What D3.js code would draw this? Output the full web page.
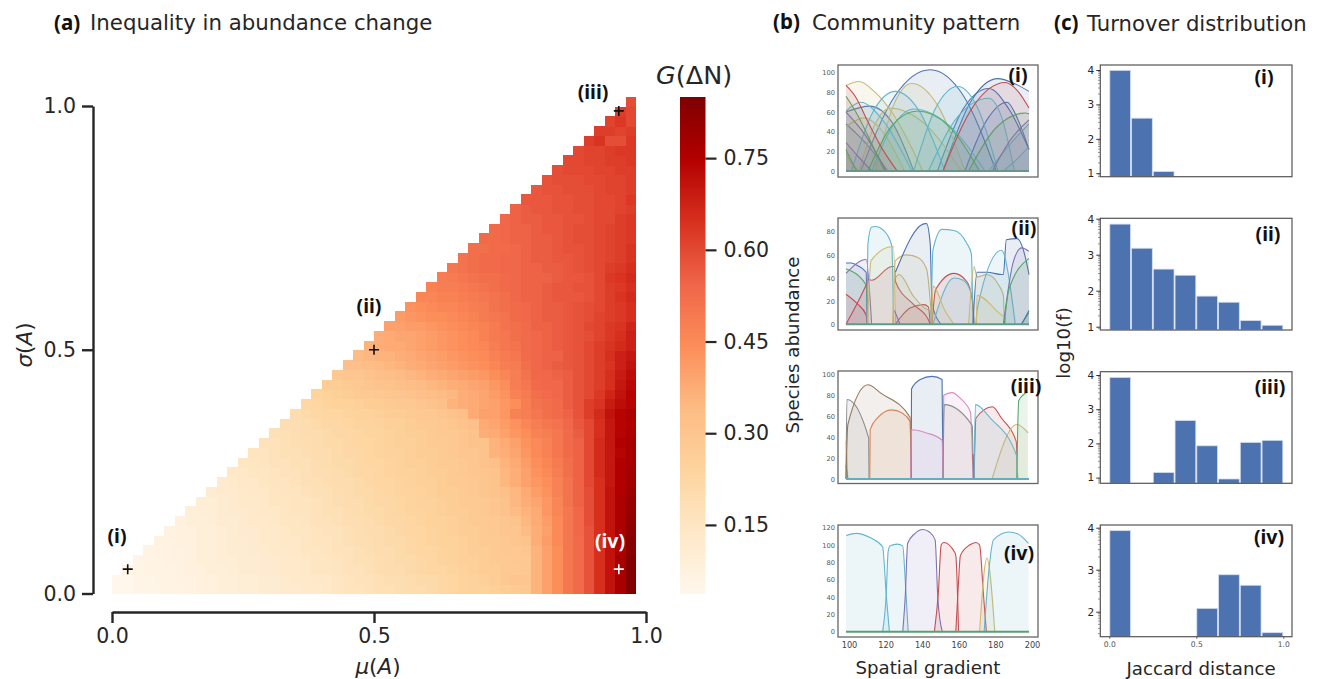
<!DOCTYPE html>
<html>
<head>
<meta charset="utf-8">
<script src="https://cdn.jsdelivr.net/npm/d3@7"></script>
<style>
  html, body { margin: 0; background: #fff; }
  svg { display: block; }
  text { font-family: "DejaVu Sans", sans-serif; fill: #262626; }
  text.tag { font-family: "Noto Sans", sans-serif; font-weight: bold; }
</style>
</head>
<body>
<div id="chart"></div>
<script>
// G(dN) x 100, one list per sigma row (bottom row first). each row ends at mu column 49
const giniRows = [
  [4,4,5,5,5,6,6,7,8,8, 9,9,10,10,11,11,12,12,13,13, 14,15,16,16,17,18,18,19,20,20, 21,22,23,24,25,25,26,27,28,29, 36,40,44,50,53,58,65,71,77,84],
  [4,4,5,5,6,6,7,7,8,8, 9,9,10,10,11,11,12,13,13,14, 14,15,16,17,17,18,19,19,20,21, 21,22,23,24,25,26,27,29,30,30, 36,40,44,50,53,58,65,71,77,84],
  [5,5,5,6,6,7,8,8,9, 9,10,11,11,12,12,13,13,14,15, 15,16,17,17,18,19,20,20,21,22, 23,23,24,25,26,27,27,28,28,29, 36,40,44,50,53,58,65,71,77,84],
  [5,6,6,7,7,8,9,9, 10,10,11,11,12,12,13,13,14,15, 15,16,17,18,18,19,20,21,21,22, 23,24,25,26,26,27,28,28,29,29, 36,40,44,50,53,58,65,71,77,84],
  [6,6,7,7,8,9,9, 10,11,11,12,12,13,13,14,15,15, 16,17,17,18,19,20,20,21,22,23, 23,24,25,26,27,27,28,29,29,30, 36,40,44,50,53,58,65,71,76,83],
  [7,7,8,8,9,9, 10,11,11,12,13,13,14,14,15,16, 16,17,18,19,19,20,21,21,22,23, 24,25,25,26,27,28,28,29,30,31, 37,41,45,50,53,58,65,71,77,83],
  [7,8,8,9,9, 10,11,12,12,13,13,14,15,15,16, 17,17,18,19,20,20,21,22,23,23, 24,25,26,27,27,28,29,30,30,34, 37,40,45,50,54,58,65,71,76,82],
  [8,9,9,10, 11,11,12,13,13,14,15,15,16,17, 17,18,19,19,20,21,22,22,23,24, 25,25,26,27,28,28,29,30,31,35, 38,41,45,50,54,59,65,71,76,81],
  [9,10,10, 11,12,12,13,14,14,15,16,16,17, 18,18,19,20,21,21,22,23,24,24, 25,26,27,27,28,29,30,31,34,36, 38,42,46,50,54,59,65,71,76,80],
  [10,10, 11,12,13,13,14,15,15,16,16,17, 18,19,20,20,21,22,22,23,24,25, 25,26,27,28,28,29,30,31,35,37, 39,42,46,51,55,59,65,71,76,80],
  [11, 12,12,13,14,14,15,16,16,17,18, 18,19,20,21,21,22,23,24,24,25, 26,27,27,28,29,30,31,32,35,38, 41,43,47,51,55,59,65,71,75,79],
  [12,13,14,14,15,16,16,17,18,18, 19,20,20,21,22,23,23,24,25,26, 26,27,28,28,29,30,31,35,37,40, 42,44,47,51,55,60,65,70,75,78],
  [14,14,15,15,16,17,17,18,19, 19,20,21,22,22,23,24,25,25,26, 27,27,28,29,30,30,31,35,37,40, 43,45,48,52,55,60,66,70,75,78],
  [15,15,16,17,17,18,18,19, 20,21,21,22,23,23,24,25,26,26, 27,28,28,29,30,31,32,36,38,41, 44,46,49,52,55,60,66,70,75,77],
  [16,16,17,18,18,19,20, 20,21,22,22,23,24,25,25,26,27, 27,28,29,30,30,31,36,37,39,42, 45,47,50,53,55,60,66,70,74,77],
  [17,17,18,19,19,20, 21,21,22,23,23,24,25,26,26,27, 28,28,29,30,31,31,36,38,40,43, 45,47,50,53,55,60,66,70,75,77],
  [18,18,19,20,20, 21,22,22,23,24,24,25,26,27,27, 28,29,29,30,31,37,38,40,42,44, 47,48,50,53,56,60,65,70,74,76],
  [19,19,20,21, 22,22,23,24,24,25,26,26,27,28, 28,29,30,31,32,38,39,41,43,46, 48,50,51,54,57,60,65,70,74,75],
  [20,21,22, 23,23,24,25,25,26,27,27,28,29, 29,30,31,32,38,40,40,42,47,48, 50,52,53,55,58,62,66,71,74,76],
  [22,23, 24,25,25,26,27,27,28,29,29,30, 31,32,36,37,38,39,40,42,44,48, 51,52,53,56,58,62,64,69,72,74],
  [24, 25,26,27,28,28,29,30,30,31,32, 33,34,35,37,38,39,41,43,47,49, 52,53,54,56,58,60,63,67,71,74],
  [27,27,28,29,30,31,31,32,33,34, 35,36,37,38,39,40,42,44,48,50, 53,54,54,56,58,60,62,65,70,73],
  [29,30,30,31,32,33,34,35,36, 37,38,39,40,41,42,44,46,48,51, 54,54,55,56,58,60,62,65,69,72],
  [32,32,33,34,35,36,37,38, 39,40,41,42,43,44,46,48,49,52, 54,55,56,57,58,60,62,64,68,71],
  [34,35,36,36,37,38,39, 40,41,42,43,44,45,47,49,50,53, 54,55,55,57,58,60,62,65,68,70],
  [36,37,38,38,39,40, 41,42,43,44,45,46,48,50,51,53, 54,55,56,57,58,60,62,64,66,68],
  [37,38,39,39,40, 41,42,43,44,45,47,49,50,52,53, 54,55,56,57,58,59,61,63,65,68],
  [40,40,41,41, 42,43,44,45,46,47,49,51,52,53, 55,55,56,57,58,60,61,63,64,67],
  [41,42,43, 44,44,45,46,47,49,50,51,53,54, 55,56,56,57,58,59,61,62,63,65],
  [43,44, 45,46,46,47,48,49,51,52,53,54, 55,56,56,57,58,59,60,62,63,65],
  [46, 46,47,47,48,49,50,51,52,54,55, 55,56,57,57,57,58,60,62,64,66],
  [47,48,48,49,50,51,52,53,54,55, 55,56,57,57,58,58,60,62,63,65],
  [48,49,50,51,52,52,53,54,55, 55,55,56,57,57,58,60,63,64,66],
  [50,51,52,53,53,54,54,55, 55,56,56,57,58,59,60,62,63,65],
  [51,52,53,53,54,54,55, 56,56,57,57,58,59,60,61,62,64],
  [52,52,53,53,54,55, 56,56,57,58,58,59,60,61,62,64],
  [53,53,54,55,55, 56,56,57,58,59,59,60,61,62,63],
  [53,54,55,55, 56,57,57,58,59,59,60,61,62,63],
  [54,55,56, 56,57,57,58,58,59,60,60,62,63],
  [55,56, 57,57,58,58,59,59,60,60,61,62],
  [57, 57,57,58,58,59,59,60,60,61,63],
  [57,58,58,59,59,59,60,61,61,62],
  [58,59,59,59,60,60,61,61,62],
  [59,60,60,60,61,61,62,62],
  [60,60,61,61,62,62,63],
  [60,61,61,62,63,63],
  [62,64,59,59,63],
  [62,62,61,62],
  [61,63,60],
  [62,60],
  [59]
];

const colorbarTicks = [0.15, 0.30, 0.45, 0.60, 0.75];
const orRdValues = [0.037, 0.139, 0.240, 0.342, 0.443, 0.545, 0.647, 0.748, 0.85];
const orRdColors = ["#fff7ec","#fee8c8","#fdd49e","#fdbb84","#fc8d59","#ef6548","#d7301f","#b30000","#7f0000"];

// the four parameter points marked on the heatmap
const pointNames = ["(i)", "(ii)", "(iii)", "(iv)"];
const pointMu = [0.03, 0.5, 0.95, 0.95];
const pointSigma = [0.05, 0.5, 0.99, 0.05];

// species abundance curves, [gradient, abundance]
const speciesI = [
  [[108,0],[127,77],[146,103],[164,77],[182,0]],
  [[153,0],[168,70],[183,94],[192,89],[200,81]],
  [[150,0],[164,63],[178,84],[189,63],[200,22]],
  [[165,0],[177,52],[188,70],[194,52],[200,22]],
  [[100,60],[113,66],[125,50],[137,0]],
  [[100,48],[110,30],[123,0]],
  [[116,0],[126,67],[136,89],[150,67],[165,0]],
  [[100,87],[107,91],[116,80],[125,60],[142,0]],
  [[100,45],[110,54],[120,40],[132,0]],
  [[107,0],[116,48],[124,64],[143,48],[163,0]],
  [[100,18],[103,8],[107,0]],
  [[145,0],[161,55],[178,74],[185,55],[192,0]],
  [[137,0],[149,64],[161,86],[172,64],[183,0]],
  [[103,0],[115,61],[127,81],[140,61],[154,0]],
  [[114,0],[126,47],[137,63],[156,47],[176,0]],
  [[100,61],[108,70],[120,52],[136,0]],
  [[178,0],[190,28],[200,48]],
  [[186,0],[194,13],[200,25]],
  [[100,60],[110,38],[122,0]],
  [[100,29],[107,14],[114,0]],
  [[180,0],[190,32],[200,52]],
  [[167,0],[182,44],[198,59],[200,58]],
  [[112,0],[125,46],[139,61],[156,46],[173,0]],
  [[100,76],[106,58],[114,28],[121,0]],
  [[100,22],[103,10],[106,0]],
  [[153,0],[170,67],[187,90],[194,81],[200,64]],
  [[100,87],[105,76],[112,50],[120,22],[128,0]]
];
const colorsI = ["b","b","b","b","b","b","y","y","y","y","y","c","c","c","c","c","c","c","m","m","m","g","g","g","g","r","r"];

const speciesII = [
  [[100,53],[103,53],[106,51],[111,45],[111.5,0]],
  [[100,44],[111,56],[114,0]],
  [[100,48],[111,34],[112,0]],
  [[100,26],[106,18],[111,8],[111.5,0]],
  [[100,0],[111,34],[112.4,39],[114,38],[125,50],[126.5,50],[127,37],[137,17],[145,4],[146,0]],
  [[127,0],[135,14],[142.4,17],[145,15],[146,0]],
  [[111.5,0],[112,70],[114,84],[116,84.5],[120.6,81],[125,68],[126,0]],
  [[111.8,0],[113.7,55],[125,67],[126,67],[127,0]],
  [[125.5,0],[127,55],[133,60],[139,58],[144,48],[147,0]],
  [[127,40],[129,43],[137,24],[144,13],[146,12],[146.8,0]],
  [[127,45],[143.4,87],[144,87],[146,70],[147,18],[152,0]],
  [[146.5,0],[147.5,64],[152.5,82],[159,81],[166,70],[168.5,61],[169.4,0]],
  [[147,0],[149,30],[159,44],[166,37],[169,21],[170,0]],
  [[147.5,0],[159,40],[164,38],[169,24],[170,0]],
  [[147,0],[147.5,33],[154,12],[159,0]],
  [[167,0],[170,50],[171.6,41],[177,43],[183.4,34],[186,25],[186.5,0]],
  [[169.4,0],[171.6,45],[177,45],[185,43],[186,43],[187.6,73],[193.4,74],[199,51],[200,43]],
  [[171,0],[171.6,12],[185,64],[186,62],[192.5,0]],
  [[171.3,0],[171.6,25],[185,8],[187,6],[187.2,0]],
  [[186,0],[191.6,55],[196,66],[200,63]],
  [[186.5,0],[189,30],[200,57]],
  [[195.6,0],[200,10]],
  [[196,0],[200,12]],
  [[126.5,12],[129.5,0]]
];
const colorsII = ["b","m","g","r","r","r","c","y","y","y","b","c","r","c","y","y","b","c","y","m","g","g","b","m"];

const speciesIII = [
  [[100,0],[100.5,76],[112.4,39],[112.6,0]],
  [[100,36],[101,0]],
  [[100,13],[101,0]],
  [[100,0],[101,52],[112,90],[119,82],[135,59],[135.6,0]],
  [[113,0],[113.2,47],[117,58],[125,66],[130.6,63],[135,55],[135.6,0]],
  [[135.6,0],[135.8,86],[140.6,95],[147,98],[152.5,95],[153,0]],
  [[135.4,0],[135.7,47],[144,44],[152.5,37],[153,0]],
  [[153,0],[153.4,80],[158,82.5],[162.5,77],[168,64],[169.4,0]],
  [[153,0],[153.7,71],[169,51],[169.6,0]],
  [[169.4,24],[170,0]],
  [[170,0],[171,58],[180,69],[185,58],[193,36],[193.8,0]],
  [[179.8,0],[193.4,52],[199.5,44]],
  [[193.3,0],[194.4,75],[199.3,83]],
  [[170,0],[170.7,71],[179,58],[193.5,21],[193.8,0]]
];
const colorsIII = ["gray","y","g","brown","orange","b","pink","pink","gray","r","r","y","g","c"];

const speciesIV = [
  [[100,111],[105.5,113.5],[113.7,108],[120,98],[122,42],[123.7,0]],
  [[120,0],[122,44],[123,92],[124,99],[128,101],[131,99],[132.4,58],[134,0]],
  [[131,0],[132.4,42],[133.7,102],[137.5,113],[142,118],[145.6,115],[148.7,106],[150.2,38],[152.6,0]],
  [[148.3,0],[150.5,46],[152,100],[153.4,103],[159.3,92],[160,88],[161.5,0]],
  [[160,0],[161.5,58],[162.5,88],[167.5,100],[171,103],[173,100],[175,46],[176.7,0]],
  [[173,0],[177,85],[181.3,0]],
  [[175.5,0],[178,69],[180.6,106],[189,115],[193.7,113],[199.7,102]]
];
const colorsIV = ["c","c","m","r","r","y","c"];

const gradientTicks = [100, 120, 140, 160, 180, 200];
const abundanceMax = [100, 80, 100, 120];

// log10 of the bin counts, 8 bins over the Jaccard distance. null = empty bin
const binEdges = [0, 0.125, 0.25, 0.375, 0.5, 0.625, 0.75, 0.875, 1];
const histI = [3.99, 2.60, 1.05, null, null, null, null, null];
const histII = [3.85, 3.18, 2.60, 2.43, 1.85, 1.68, 1.17, 1.04];
const histIII = [3.93, null, 1.15, 2.67, 1.93, 0.96, 2.03, 2.09];
const histIV = [3.93, null, null, null, 2.08, 2.88, 2.63, 1.50];
const histTicks = [[1,2,3,4],[1,2,3,4],[1,2,3,4],[2,3,4]];
const jaccardTicks = [0, 0.5, 1];

const palette = {
  b: "#4c72b0", g: "#55a868", r: "#c44e52", m: "#8172b2", y: "#ccb974", c: "#64b5cd",
  orange: "#dd8452", brown: "#937860", pink: "#da8bc3", gray: "#8c8c8c"
};

const width = 1319, height = 679;
const svg = d3.select("#chart").append("svg").attr("width", width).attr("height", height);

function label(x, y, str, size, opts = {}) {
  const t = svg.append("text")
    .attr("x", x).attr("y", y)
    .attr("font-size", size)
    .attr("text-anchor", opts.anchor || "start")
    .attr("class", opts.tag ? "tag" : null)
    .style("fill", opts.fill || "#262626")
    .text(str);
  if (opts.rotate) t.attr("transform", `rotate(-90 ${x} ${y})`);
  return t;
}

// mixed italic/upright label, parts = [[text, italic], ...]
function mathLabel(x, y, parts, size, rotate) {
  const t = svg.append("text").attr("x", x).attr("y", y).attr("font-size", size).attr("text-anchor", "middle");
  parts.forEach(p => t.append("tspan").attr("font-style", p[1] ? "italic" : "normal").text(p[0]));
  if (rotate) t.attr("transform", `rotate(-90 ${x} ${y})`);
}

label(54, 30, "(a)", 20.5, {tag: true, fill: "#111"});
label(90, 30, "Inequality in abundance change", 21.3);
label(773, 29, "(b)", 20.5, {tag: true, fill: "#111"});
label(812, 30, "Community pattern", 21.3);
label(1054, 30, "(c)", 20.5, {tag: true, fill: "#111"});
label(1087, 31, "Turnover distribution", 21.2);

// --- (a) heatmap ---
const color = d3.scaleLinear().domain(orRdValues).range(orRdColors);
const cellX = d3.scaleBand().domain(d3.range(50)).range([112, 636]);
const cellY = d3.scaleBand().domain(d3.range(giniRows.length)).range([594, 97]);
const muScale = d3.scaleLinear().domain([0, 0.5, 1]).range([112, 374, 646]);
const sigmaScale = d3.scaleLinear().domain([0, 1]).range([593.5, 106]);

const cells = giniRows.flatMap((row, r) => row.map((v, i) => ({r, c: 50 - row.length + i, v: v / 100})));
svg.append("g").attr("shape-rendering", "crispEdges").selectAll("rect")
  .data(cells).join("rect")
  .attr("x", d => cellX(d.c))
  .attr("y", d => cellY(d.r))
  .attr("width", cellX.bandwidth() + 0.4)
  .attr("height", cellY.bandwidth() + 0.4)
  .attr("fill", d => color(d.v));

const xAxisA = svg.append("g").attr("transform", "translate(0,612)")
  .call(d3.axisBottom(muScale).tickValues([0, 0.5, 1]).tickFormat(d3.format(".1f")).tickSize(11).tickPadding(5).tickSizeOuter(0));
const yAxisA = svg.append("g").attr("transform", "translate(93,0)")
  .call(d3.axisLeft(sigmaScale).tickValues([0, 0.5, 1]).tickFormat(d3.format(".1f")).tickSize(11).tickPadding(6).tickSizeOuter(0));
[xAxisA, yAxisA].forEach(a => {
  a.selectAll("path,line").attr("stroke", "#262626").attr("stroke-width", 2.4);
  a.selectAll("text").attr("font-size", 20.5).attr("font-family", null);
});
mathLabel(378, 674, [["\u03bc", true], ["(", false], ["A", true], [")", false]], 21.5);
mathLabel(32, 345, [["\u03c3", true], ["(", false], ["A", true], [")", false]], 21.5, true);

// markers
const pointLabelX = [117, 369, 593, 610];
const pointLabelY = [543, 313, 99, 548];
pointNames.forEach((name, i) => {
  const fg = i === 3 ? "#fff" : "#111";
  const px = muScale(pointMu[i]), py = sigmaScale(pointSigma[i]);
  svg.append("path")
    .attr("d", `M${px - 5},${py}H${px + 5}M${px},${py - 5}V${py + 5}`)
    .attr("stroke", fg).attr("stroke-width", 1.6).attr("fill", "none");
  label(pointLabelX[i], pointLabelY[i], name, 19.5, {tag: true, anchor: "middle", fill: fg});
});

// colorbar
const defs = svg.append("defs");
const grad = defs.append("linearGradient").attr("id", "orrd")
  .attr("x1", 0).attr("x2", 0).attr("y1", 1).attr("y2", 0);
grad.selectAll("stop").data(orRdColors).join("stop")
  .attr("offset", (d, i) => i / (orRdColors.length - 1))
  .attr("stop-color", d => d);
const barScale = d3.scaleLinear().domain([orRdValues[0], orRdValues[8]]).range([594, 97]);
svg.append("rect").attr("x", 680).attr("y", 97).attr("width", 25.5).attr("height", 497).attr("fill", "url(#orrd)");
const barAxis = svg.append("g").attr("transform", "translate(705.5,0)")
  .call(d3.axisRight(barScale).tickValues(colorbarTicks).tickFormat(d3.format(".2f")).tickSize(11).tickPadding(7));
barAxis.select(".domain").remove();
barAxis.selectAll("line").attr("stroke", "#262626").attr("stroke-width", 2.2);
barAxis.selectAll("text").attr("font-size", 20.5).attr("font-family", null);
const barTitle = svg.append("text").attr("x", 656).attr("y", 84).attr("font-size", 25.5);
barTitle.append("tspan").attr("font-style", "italic").text("G");
barTitle.append("tspan").text("(\u0394N)");

// --- (b) community patterns ---
const speciesSets = [speciesI, speciesII, speciesIII, speciesIV];
const colorSets = [colorsI, colorsII, colorsIII, colorsIV];
const baseColors = ["#6a9686", "#5f9a8a", "#5fb0c4", "#5aa06f"];
const frameTop = [65, 218, 371, 525];
const frameBottom = [177, 330, 483.5, 637];
const zeroY = [171, 324.3, 479, 631.7];
const maxY = [72.7, 231.7, 374.3, 527.7];
const nameBX = [1018, 1024, 1026, 1019];
const nameBY = [82, 235, 393, 560];

const gradientX = d3.scaleLinear().domain([100, 200]).range([846, 1029]);

speciesSets.forEach((set, p) => {
  const y = d3.scaleLinear().domain([0, abundanceMax[p]]).range([zeroY[p], maxY[p]]);
  const g = svg.append("g");
  const line = d3.line().x(d => gradientX(d[0])).y(d => y(d[1])).curve(d3.curveMonotoneX);
  const area = d3.area().x(d => gradientX(d[0])).y0(y(0)).y1(d => y(d[1])).curve(d3.curveMonotoneX);
  set.forEach((pts, i) => {
    const c = palette[colorSets[p][i]];
    g.append("path").attr("d", area(pts)).attr("fill", c).attr("fill-opacity", 0.12);
    g.append("path").attr("d", line(pts)).attr("fill", "none").attr("stroke", c).attr("stroke-width", 1.1);
  });
  g.append("path").attr("d", line([[100, 0], [200, 0]])).attr("stroke", baseColors[p]).attr("stroke-width", 2);

  svg.append("rect").attr("x", 838).attr("y", frameTop[p])
    .attr("width", 200).attr("height", frameBottom[p] - frameTop[p])
    .attr("fill", "none").attr("stroke", "#666").attr("stroke-width", 1.3);

  const ax = svg.append("g").attr("transform", "translate(838,0)")
    .call(d3.axisLeft(y).tickValues(d3.range(0, abundanceMax[p] + 1, 20)).tickSize(0).tickPadding(3));
  ax.select(".domain").remove();
  ax.selectAll("text").attr("font-size", 6.7).attr("font-family", null).style("fill", "#555");

  label(nameBX[p], nameBY[p], pointNames[p], 19.5, {tag: true, anchor: "middle", fill: "#111"});
});

// tick labels sit about 3px right of the curve origin in the reference
const gradAxis = svg.append("g").attr("transform", "translate(3,637)")
  .call(d3.axisBottom(gradientX).tickValues(gradientTicks).tickSize(0).tickPadding(5));
gradAxis.select(".domain").remove();
gradAxis.selectAll("text").attr("font-size", 8.2).attr("font-family", null).style("fill", "#444");

label(928, 674, "Spatial gradient", 18.2, {anchor: "middle"});
label(799, 345, "Species abundance", 18.2, {anchor: "middle", rotate: true});

// --- (c) turnover histograms ---
const histSets = [histI, histII, histIII, histIV];
const histTop = [65, 218.3, 371.7, 525];
const histBottom = [176.7, 330, 483.3, 636.7];
const histFour = [70, 218.7, 375, 527.7];
const histUnit = [34.4, 36, 34.2, 42];
const nameCX = [1264, 1268, 1270, 1269];
const nameCY = [84, 241, 394, 544];

const jaccardX = d3.scaleLinear().domain([0, 1]).range([1109.3, 1283.3]);

histSets.forEach((vals, p) => {
  const y = d3.scaleLinear().domain([0, 4]).range([histFour[p] + 4 * histUnit[p], histFour[p]]);
  const bars = vals.map((v, i) => ({v, x0: binEdges[i], x1: binEdges[i + 1]})).filter(d => d.v !== null);
  svg.append("g").selectAll("rect").data(bars).join("rect")
    .attr("x", d => jaccardX(d.x0) + 0.5)
    .attr("y", d => y(d.v))
    .attr("width", d => jaccardX(d.x1) - jaccardX(d.x0) - 1)
    .attr("height", d => histBottom[p] - y(d.v))
    .attr("fill", palette.b)
    .attr("stroke", "#d5deee").attr("stroke-width", 0.8);

  svg.append("rect").attr("x", 1100.3).attr("y", histTop[p])
    .attr("width", 191.7).attr("height", histBottom[p] - histTop[p])
    .attr("fill", "none").attr("stroke", "#555").attr("stroke-width", 1.2);

  const ax = svg.append("g").attr("transform", "translate(1100.3,0)")
    .call(d3.axisLeft(y).tickValues(histTicks[p]).tickFormat(d3.format("d")).tickSize(4).tickPadding(2).tickSizeOuter(0));
  ax.select(".domain").remove();
  ax.selectAll("line").attr("stroke", "#333");
  ax.selectAll("text").attr("font-size", 10.5).attr("font-family", null);

  // log minor ticks between the decades
  const minors = d3.range(0, 4).flatMap(k => d3.range(2, 10).map(m => k + Math.log10(m)))
    .filter(v => y(v) > histTop[p] && y(v) < histBottom[p]);
  svg.append("g").selectAll("line").data(minors).join("line")
    .attr("x1", 1098).attr("x2", 1100.3)
    .attr("y1", d => y(d)).attr("y2", d => y(d))
    .attr("stroke", "#777").attr("stroke-width", 0.8);

  label(nameCX[p], nameCY[p], pointNames[p], 19.5, {tag: true, anchor: "middle", fill: "#111"});
});

const jacAxis = svg.append("g").attr("transform", "translate(0,636.7)")
  .call(d3.axisBottom(jaccardX).tickValues(jaccardTicks).tickFormat(d3.format(".1f")).tickSize(2).tickPadding(3));
jacAxis.select(".domain").remove();
jacAxis.selectAll("line").attr("stroke", "#555");
jacAxis.selectAll("text").attr("font-size", 7.6).attr("font-family", null).style("fill", "#555");

label(1201, 675, "Jaccard distance", 18.2, {anchor: "middle"});
label(1070, 343, "log10(f)", 18.2, {anchor: "middle", rotate: true});
</script>
</body>
</html>
